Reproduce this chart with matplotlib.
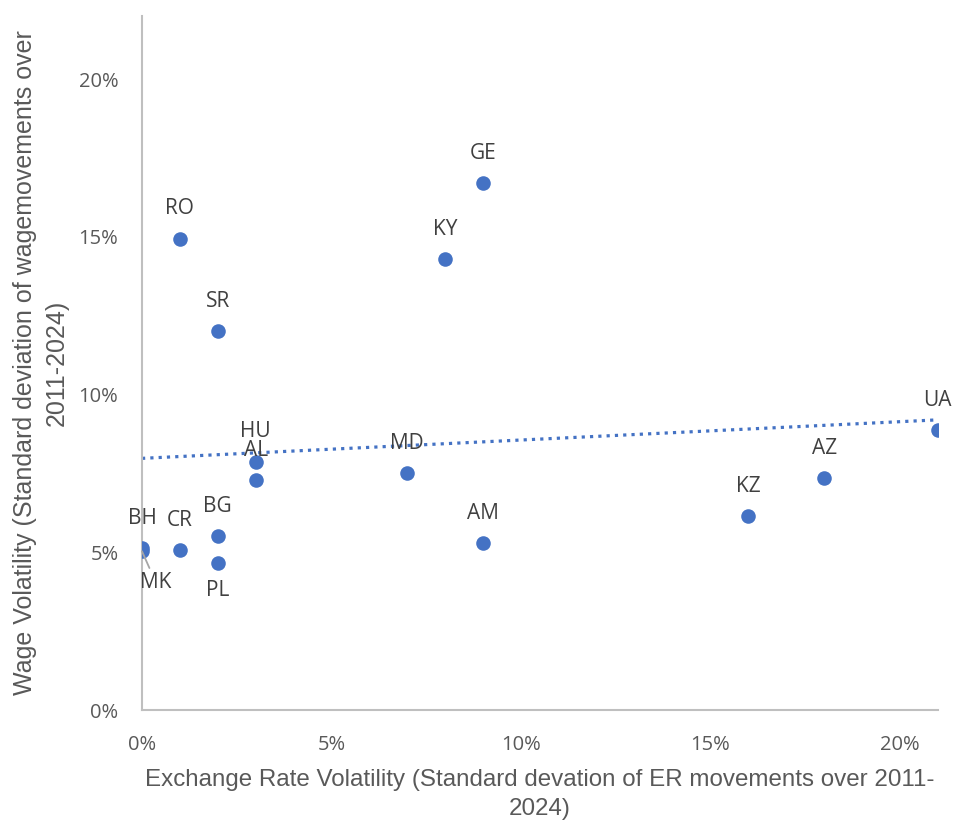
import numpy as np
import matplotlib
matplotlib.use("Agg")
import matplotlib.pyplot as plt
from matplotlib.ticker import PercentFormatter

countries = ["BH", "MK", "CR", "BG", "PL", "HU", "AL", "RO", "SR", "KY", "GE", "MD", "AM", "KZ", "AZ", "UA"]
er_vol = [0.0, 0.0, 1.0, 2.0, 2.0, 3.0, 3.0, 1.0, 2.0, 8.0, 9.0, 7.0, 9.0, 16.0, 18.0, 21.0]
wage_vol = [5.13, 5.03, 5.06, 5.5, 4.65, 7.85, 7.28, 14.94, 12.0, 14.3, 16.7, 7.5, 5.28, 6.14, 7.34, 8.86]
x_ticks = [0, 5, 10, 15, 20]
y_ticks = [0, 5, 10, 15, 20]

blue = "#4472C4"
fig = plt.figure(figsize=(9.55, 8.23), dpi=100)
ax = fig.add_axes([0.1487, 0.1373, 0.982 - 0.1487, 0.9806 - 0.1373])

x = np.array(er_vol)
y = np.array(wage_vol)
ax.scatter(x, y, s=110, color=blue, zorder=3, linewidths=0)

# trendline
m, b = np.polyfit(x, y, 1)
xt = np.array([0, 21])
ax.plot(xt, m * xt + b, color=blue, linestyle=(0, (1, 1.6)), linewidth=2.3, zorder=2)

lab_kw = dict(textcoords="offset points", ha="center", va="center",
              fontsize=15, color="#404040", family="Open Sans", zorder=4)
for c, xi, yi in zip(countries, x, y):
    if c == "MK":
        ax.annotate(c, (xi, yi), xytext=(10, -22.5),
                    arrowprops=dict(arrowstyle="-", color="#A6A6A6", lw=1.3,
                                    shrinkA=1, shrinkB=0), **lab_kw)
    elif c == "PL":
        ax.annotate(c, (xi, yi), xytext=(0, -19.5), **lab_kw)
    elif c == "HU":
        ax.annotate(c, (xi, yi), xytext=(0, 22.5), **lab_kw)
    else:
        ax.annotate(c, (xi, yi), xytext=(0, 21.5), **lab_kw)

ax.set_xlim(0, 21)
ax.set_ylim(0, 22)
ax.set_xticks(x_ticks)
ax.set_yticks(y_ticks)
ax.xaxis.set_major_formatter(PercentFormatter(decimals=0))
ax.yaxis.set_major_formatter(PercentFormatter(decimals=0))
ax.tick_params(length=0, labelsize=14.5, labelcolor="#595959")
ax.tick_params(axis="x", pad=18)
ax.tick_params(axis="y", pad=17)
for lab in ax.get_xticklabels() + ax.get_yticklabels():
    lab.set_family("Open Sans")

for s in ["top", "right"]:
    ax.spines[s].set_visible(False)
for s in ["left", "bottom"]:
    ax.spines[s].set_color("#BFBFBF")
    ax.spines[s].set_linewidth(1.5)

title_font = ["Liberation Sans Narrow", "Liberation Sans", "DejaVu Sans"]
ax.set_xlabel("Exchange Rate Volatility (Standard devation of ER movements over 2011-\n2024)",
              fontsize=17.4, color="#595959", family=title_font, labelpad=10, linespacing=1.4)
ax.set_ylabel("Wage Volatility (Standard deviation of wagemovements over\n2011-2024)",
              fontsize=18, color="#595959", family=title_font, labelpad=7, linespacing=1.4)

fig.savefig("out.png", dpi=100)
